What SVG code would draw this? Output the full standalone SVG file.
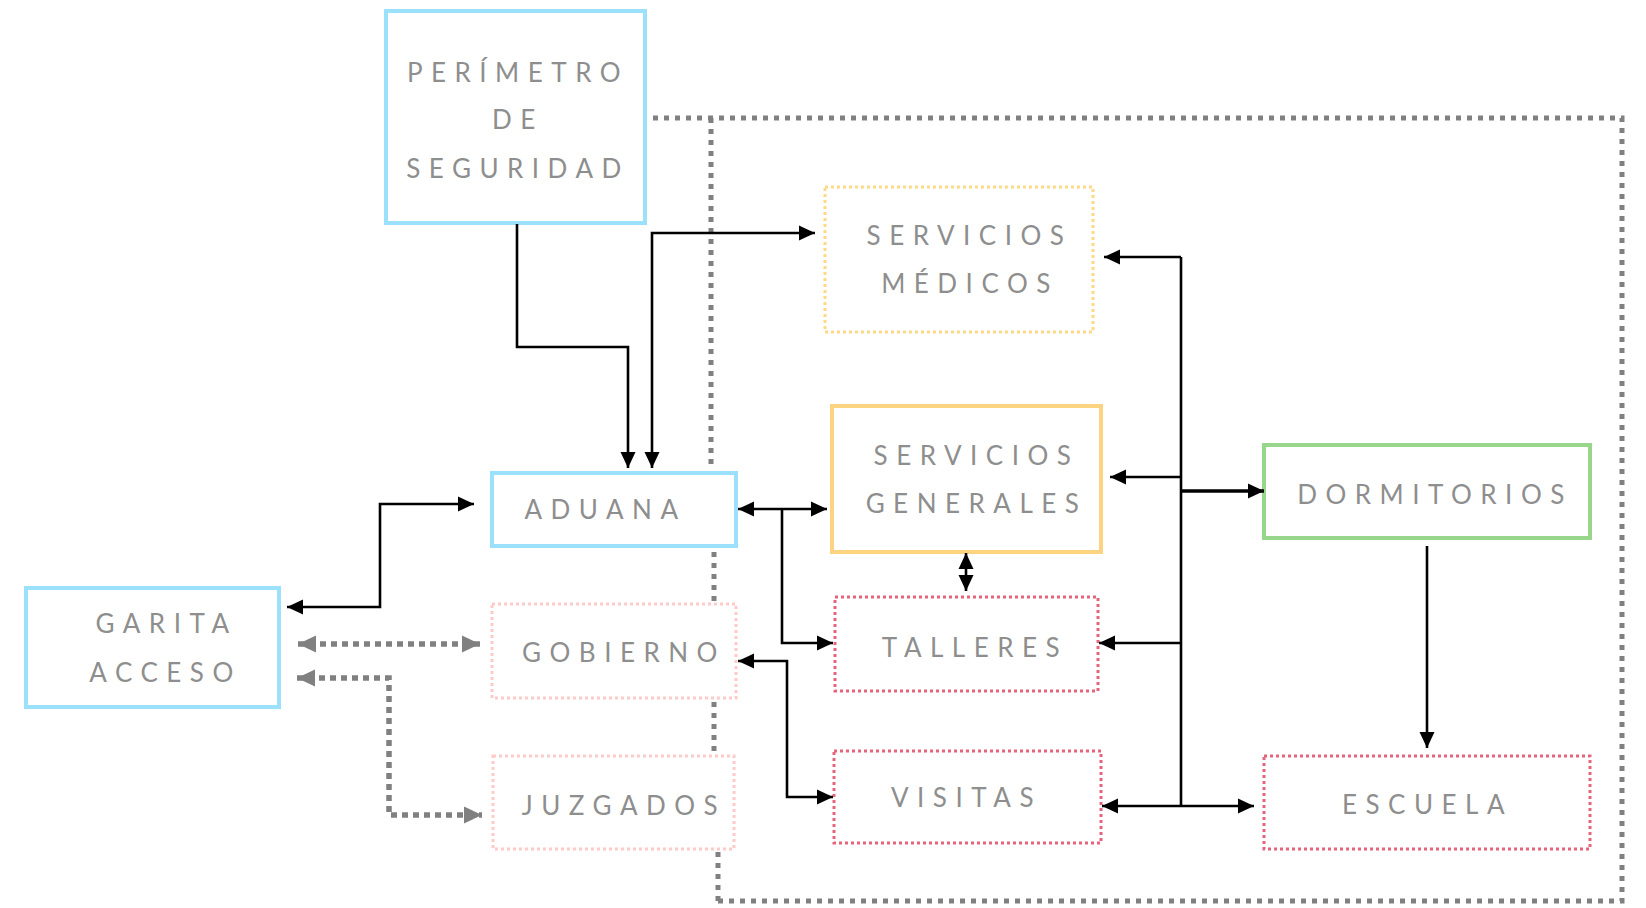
<svg xmlns="http://www.w3.org/2000/svg" width="1646" height="908" viewBox="0 0 1646 908">
<style>
  .lbl { font-family: Lato, "Liberation Sans", sans-serif; font-weight: 400; font-size: 26px; letter-spacing: 8.5px; fill: #8e8e8e; text-anchor: middle; }
  .box { fill: #ffffff; }
  .blue { stroke: #9be1fc; stroke-width: 4; }
  .orange { stroke: #fcd381; stroke-width: 4; }
  .orangeDot { stroke: #ffd888; stroke-width: 3; stroke-dasharray: 3 3; }
  .pink { stroke: #ffcaca; stroke-width: 3; stroke-dasharray: 3 3; }
  .red { stroke: #e5647c; stroke-width: 3; stroke-dasharray: 3 3; }
  .green { stroke: #98d68c; stroke-width: 4; }
  .frame { fill: none; stroke: #808080; stroke-width: 5; stroke-dasharray: 5 6; }
  .conn { fill: none; stroke: #000000; stroke-width: 2.6; }
  .grey { fill: none; stroke: #808080; stroke-width: 5.5; stroke-dasharray: 6 5; }
</style>
<defs>
  <marker id="ah" markerUnits="userSpaceOnUse" markerWidth="16" markerHeight="16" viewBox="0 0 16 16" refX="16" refY="8" orient="auto-start-reverse">
    <path d="M0,0.5 L16,8 L0,15.5 z" fill="#000000"/>
  </marker>
  <marker id="gh" markerUnits="userSpaceOnUse" markerWidth="18" markerHeight="18" viewBox="0 0 18 18" refX="18" refY="9" orient="auto-start-reverse">
    <path d="M0,0.5 L18,9 L0,17.5 z" fill="#808080"/>
  </marker>
</defs>

<g id="frame">
  <path class="frame" d="M653,118 H1622 V901 H718"/>
  <path class="frame" d="M711,118 V466"/>
  <path class="frame" d="M714,552 V602"/>
  <path class="frame" d="M714,702 V754"/>
  <path class="frame" d="M718,852 V901"/>
</g>

<g id="node-perimetro"><rect class="box blue" x="386" y="11" width="259" height="212"/>
  <text class="lbl" x="518" y="82">PERÍMETRO</text>
  <text class="lbl" x="518" y="129">DE</text>
  <text class="lbl" x="518" y="178">SEGURIDAD</text></g>
<g id="node-aduana"><rect class="box blue" x="492" y="473" width="244" height="73"/>
  <text class="lbl" x="605.5" y="519">ADUANA</text></g>
<g id="node-garita"><rect class="box blue" x="26" y="588" width="253" height="119"/>
  <text class="lbl" x="166.5" y="633">GARITA</text>
  <text class="lbl" x="165.5" y="682">ACCESO</text></g>
<g id="node-gobierno"><rect class="box pink" x="492" y="604" width="244" height="94"/>
  <text class="lbl" x="624" y="662">GOBIERNO</text></g>
<g id="node-juzgados"><rect class="box pink" x="493" y="756" width="241" height="93"/>
  <text class="lbl" x="624" y="815">JUZGADOS</text></g>
<g id="node-servicios-medicos"><rect class="box orangeDot" x="825" y="187" width="268" height="145"/>
  <text class="lbl" x="969.5" y="245">SERVICIOS</text>
  <text class="lbl" x="970" y="293">MÉDICOS</text></g>
<g id="node-servicios-generales"><rect class="box orange" x="832" y="406" width="269" height="146"/>
  <text class="lbl" x="976.5" y="465">SERVICIOS</text>
  <text class="lbl" x="976.5" y="513">GENERALES</text></g>
<g id="node-talleres"><rect class="box red" x="835" y="597" width="263" height="94"/>
  <text class="lbl" x="975" y="657">TALLERES</text></g>
<g id="node-visitas"><rect class="box red" x="834" y="751" width="267" height="92"/>
  <text class="lbl" x="966.5" y="807">VISITAS</text></g>
<g id="node-dormitorios"><rect class="box green" x="1264" y="445" width="326" height="93"/>
  <text class="lbl" x="1435" y="504">DORMITORIOS</text></g>
<g id="node-escuela"><rect class="box red" x="1264" y="756" width="326" height="93"/>
  <text class="lbl" x="1427.5" y="814">ESCUELA</text></g>

<g id="connectors">
  <path class="conn" d="M517,224 V347 H628 V468" marker-end="url(#ah)"/>
  <path class="conn" d="M815,233 H652 V468" marker-start="url(#ah)" marker-end="url(#ah)"/>
  <path class="conn" d="M287,607 H380 V504 H474" marker-start="url(#ah)" marker-end="url(#ah)"/>
  <path class="conn" d="M738,509 H827" marker-start="url(#ah)" marker-end="url(#ah)"/>
  <path class="conn" d="M782,509 V643 H833" marker-end="url(#ah)"/>
  <path class="conn" d="M738,661 H787 V797 H833" marker-start="url(#ah)" marker-end="url(#ah)"/>
  <path class="conn" d="M966,553 V591" marker-start="url(#ah)" marker-end="url(#ah)"/>
  <path class="conn" d="M1181,257 V806"/>
  <path class="conn" d="M1181,257 H1104" marker-end="url(#ah)"/>
  <path class="conn" d="M1181,477 H1110" marker-end="url(#ah)"/>
  <path class="conn" d="M1181,643 H1099" marker-end="url(#ah)"/>
  <path class="conn" d="M1102,806 H1254" marker-start="url(#ah)" marker-end="url(#ah)"/>
  <path class="conn" d="M1181,491 H1264" style="stroke-width:3.5" marker-end="url(#ah)"/>
  <path class="conn" d="M1427,546 V748" marker-end="url(#ah)"/>
  <path class="grey" d="M298,644 H480" marker-start="url(#gh)" marker-end="url(#gh)"/>
  <path class="grey" d="M297,678 H389 V815 H482" marker-start="url(#gh)" marker-end="url(#gh)"/>
</g>
</svg>
